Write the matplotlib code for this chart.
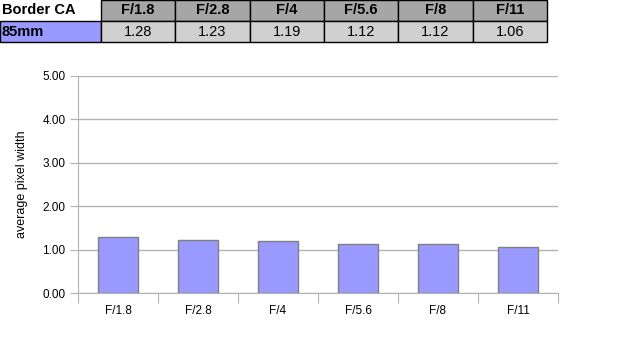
import matplotlib
matplotlib.use("Agg")
import matplotlib.pyplot as plt
from matplotlib.patches import Rectangle

plt.rcParams["font.family"] = ["Liberation Sans", "DejaVu Sans"]

apertures = ["F/1.8", "F/2.8", "F/4", "F/5.6", "F/8", "F/11"]
width_85mm = [1.28, 1.23, 1.19, 1.12, 1.12, 1.06]
table_title = "Border CA"
row_label = "85mm"
y_ticks = [0.0, 1.0, 2.0, 3.0, 4.0, 5.0]

W, H = 618, 339
fig = plt.figure(figsize=(W / 100, H / 100), dpi=100)

# table drawn in pixel coordinates
tab = fig.add_axes([0, 0, 1, 1])
tab.set_xlim(0, W)
tab.set_ylim(H, 0)
tab.axis("off")

first_w = 101
col_w = (547 - first_w) / len(apertures)
row_h = 21
tab.add_patch(Rectangle((0, row_h), first_w, row_h, fc="#9999ff", ec="black", lw=1))
tab.text(2, row_h * 0.5, table_title, ha="left", va="center", fontsize=10.5, weight="bold")
tab.text(2, row_h * 1.5, row_label, ha="left", va="center", fontsize=10.5, weight="bold")
for i, (lab, val) in enumerate(zip(apertures, width_85mm)):
    x0 = first_w + i * col_w
    tab.add_patch(Rectangle((x0, 0), col_w, row_h, fc="#a6a6a6", ec="black", lw=1))
    tab.add_patch(Rectangle((x0, row_h), col_w, row_h, fc="#d0d0d0", ec="black", lw=1))
    tab.text(x0 + col_w / 2, row_h * 0.5, lab, ha="center", va="center", fontsize=10.5, weight="bold")
    tab.text(x0 + col_w / 2, row_h * 1.5, f"{val:.2f}", ha="center", va="center", fontsize=10.5)

# bar chart
ax = fig.add_axes([78 / W, (H - 293) / H, 480 / W, 217 / H])
x = range(len(apertures))
ax.bar(x, width_85mm, width=0.5, color="#9999ff", edgecolor="#808080", linewidth=1, zorder=3)
ax.set_xlim(-0.5, len(apertures) - 0.5)
ax.set_ylim(0, 5)
ax.set_yticks(y_ticks)
ax.set_yticklabels([f"{v:.2f}" for v in y_ticks], fontsize=8.5)
ax.set_xticks([i - 0.5 for i in range(len(apertures) + 1)])
ax.set_xticklabels([])
ax.set_xticks(list(x), minor=True)
ax.set_xticklabels(apertures, minor=True, fontsize=8.5)
ax.tick_params(axis="x", which="minor", length=0, pad=9)
ax.tick_params(axis="x", which="major", length=7, color="#b3b3b3")
ax.tick_params(axis="y", length=6, color="#b3b3b3", pad=3)
ax.grid(axis="y", color="#b3b3b3", lw=1, zorder=0)
for side in ["top", "right"]:
    ax.spines[side].set_visible(False)
for side in ["left", "bottom"]:
    ax.spines[side].set_color("#b3b3b3")
ax.set_ylabel("average pixel width", fontsize=9, labelpad=10)

fig.savefig("out.png", dpi=100)
